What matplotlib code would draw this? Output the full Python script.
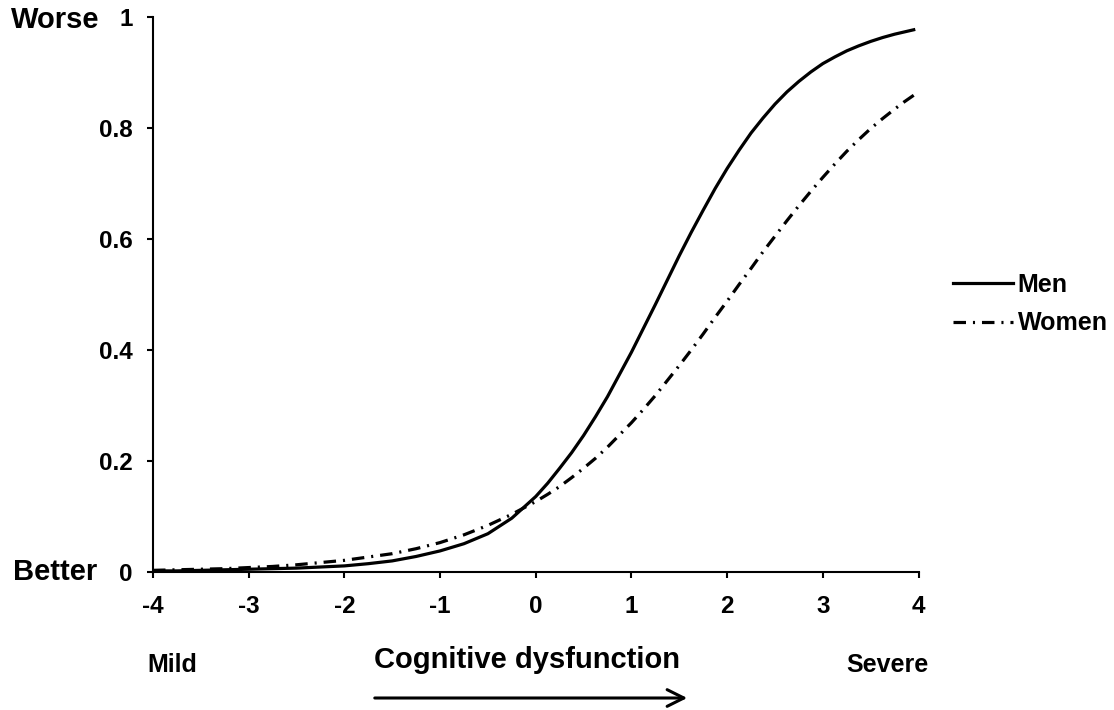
import matplotlib
matplotlib.use("Agg")
import matplotlib.pyplot as plt

plt.rcParams['font.family'] = ['Liberation Sans', 'DejaVu Sans']
plt.rcParams['font.weight'] = 'bold'
plt.rcParams['lines.scale_dashes'] = False

# values
x_vals = [-4.0, -3.75, -3.5, -3.25, -3.0, -2.75, -2.5, -2.25, -2.0, -1.75,
          -1.5, -1.25, -1.0, -0.75, -0.5, -0.25, 0.0, 0.125, 0.25, 0.375,
          0.5, 0.625, 0.75, 0.875, 1.0, 1.125, 1.25, 1.375, 1.5, 1.625,
          1.75, 1.875, 2.0, 2.125, 2.25, 2.375, 2.5, 2.625, 2.75, 2.875,
          3.0, 3.125, 3.25, 3.375, 3.5, 3.625, 3.75, 3.85, 3.95]
men = [0.002, 0.002, 0.003, 0.004, 0.005, 0.006, 0.007, 0.009, 0.011, 0.015,
       0.020, 0.028, 0.038, 0.051, 0.069, 0.097, 0.136, 0.160, 0.187, 0.215,
       0.246, 0.280, 0.316, 0.356, 0.396, 0.439, 0.482, 0.526, 0.570, 0.612,
       0.652, 0.691, 0.727, 0.760, 0.791, 0.818, 0.843, 0.865, 0.884, 0.901,
       0.916, 0.928, 0.939, 0.948, 0.956, 0.963, 0.969, 0.973, 0.977]
women = [0.003, 0.004, 0.005, 0.006, 0.008, 0.010, 0.013, 0.017, 0.021, 0.027,
         0.033, 0.042, 0.053, 0.067, 0.084, 0.104, 0.127, 0.140, 0.154, 0.170,
         0.187, 0.205, 0.225, 0.247, 0.269, 0.293, 0.318, 0.345, 0.372, 0.400,
         0.429, 0.459, 0.488, 0.518, 0.547, 0.577, 0.605, 0.633, 0.660, 0.686,
         0.711, 0.735, 0.758, 0.779, 0.799, 0.817, 0.834, 0.847, 0.859]
series_names = ["Men", "Women"]
x_ticks = [-4, -3, -2, -1, 0, 1, 2, 3, 4]
y_ticks = [0, 0.2, 0.4, 0.6, 0.8, 1]
y_ticklabels = ["0", "0.2", "0.4", "0.6", "0.8", "1"]

fig = plt.figure(figsize=(11.14, 7.1), dpi=100)
W, H = 1114, 710
ax = fig.add_axes([153 / W, 1 - 572 / H, (918.5 - 153) / W, (572 - 17) / H])

dashdot = (0, (9, 5, 1.5, 5))
ax.plot(x_vals, men, color='black', lw=2.3, label=series_names[0])
ax.plot(x_vals, women, color='black', lw=2.3, linestyle=dashdot, label=series_names[1])

ax.set_xlim(-4, 4)
ax.set_ylim(0, 1)
ax.set_xticks(x_ticks)
ax.set_xticklabels([str(t) for t in x_ticks])
ax.set_yticks(y_ticks)
ax.set_yticklabels(y_ticklabels)
for s in ['top', 'right']:
    ax.spines[s].set_visible(False)
for s in ['left', 'bottom']:
    ax.spines[s].set_linewidth(1.5)
ax.tick_params(axis='both', direction='out', length=4.5, width=1.5, labelsize=17.5)
ax.tick_params(axis='x', pad=12)
ax.tick_params(axis='y', pad=10)
for lab in ax.get_xticklabels() + ax.get_yticklabels():
    lab.set_fontweight('bold')

fig.legend(loc='center left', bbox_to_anchor=(930 / W, 1 - 304 / H), frameon=False,
           fontsize=18, handlelength=2.4, handletextpad=0.2, labelspacing=0.6)

fig.text(55 / W, 1 - 20 / H, "Worse", ha='center', va='center', fontsize=21, fontweight='bold')
fig.text(55 / W, 1 - 572 / H, "Better", ha='center', va='center', fontsize=21, fontweight='bold')
fig.text(172 / W, 1 - 665 / H, "Mild", ha='center', va='center', fontsize=18, fontweight='bold')
fig.text(887 / W, 1 - 665 / H, "Severe", ha='center', va='center', fontsize=18, fontweight='bold')
fig.text(527 / W, 1 - 660 / H, "Cognitive dysfunction", ha='center', va='center',
         fontsize=21, fontweight='bold')
fig.patches.append(matplotlib.patches.FancyArrowPatch(
    (372 / W, 1 - 698 / H), (690 / W, 1 - 698 / H), transform=fig.transFigure,
    arrowstyle='->,head_length=12,head_width=6', mutation_scale=1, lw=2.2, color='black'))

fig.savefig("out.png", dpi=100)
